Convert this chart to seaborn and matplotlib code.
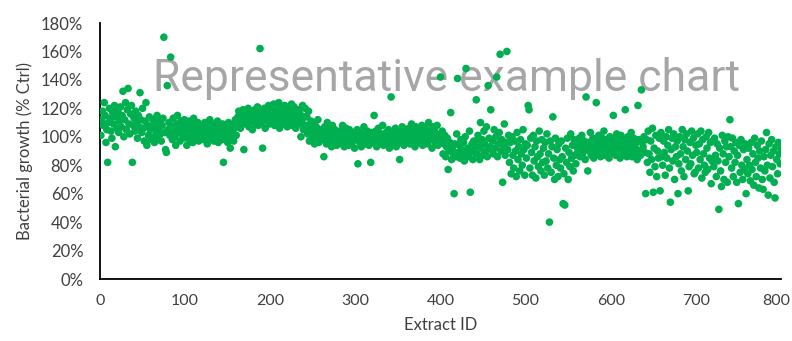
import matplotlib
matplotlib.use("Agg")
import matplotlib.pyplot as plt
import matplotlib.transforms as mtransforms
import seaborn as sns
import numpy as np
import pandas as pd
from matplotlib.ticker import FuncFormatter

# Bacterial growth (% of control) per extract ID 1..800
growth_rows = [
    [101, 112, 118, 108, 124, 115, 96, 105, 82, 110, 120, 113, 104, 99, 117, 109, 122, 93, 114, 106],
    [118, 103, 111, 121, 107, 115, 132, 100, 112, 124, 105, 119, 134, 109, 102, 116, 122, 82, 108, 113],
    [104, 118, 110, 99, 115, 107, 131, 112, 103, 120, 106, 97, 111, 124, 94, 108, 101, 114, 105, 98],
    [107, 112, 100, 96, 109, 104, 115, 99, 106, 111, 102, 97, 108, 113, 170, 103, 91, 89, 136, 105],
    [110, 101, 156, 107, 98, 113, 104, 100, 94, 109, 115, 103, 106, 97, 111, 102, 108, 99, 112, 105],
    [100, 94, 107, 111, 98, 104, 109, 101, 96, 113, 105, 99, 108, 103, 110, 97, 106, 102, 100, 107],
    [103, 98, 110, 106, 101, 95, 108, 104, 112, 99, 105, 102, 107, 97, 109, 103, 100, 111, 96, 104],
    [106, 101, 98, 109, 82, 104, 99, 107, 102, 96, 110, 105, 92, 100, 108, 103, 97, 106, 112, 101],
    [108, 114, 118, 110, 106, 116, 112, 119, 91, 115, 109, 117, 113, 120, 107, 114, 111, 118, 105, 116],
    [112, 119, 109, 115, 121, 108, 113, 162, 117, 110, 92, 116, 120, 106, 114, 118, 111, 122, 109, 115],
    [119, 112, 116, 123, 108, 114, 121, 110, 117, 124, 106, 115, 120, 113, 109, 118, 122, 111, 116, 107],
    [114, 120, 110, 117, 123, 108, 115, 121, 112, 106, 118, 113, 119, 109, 116, 100, 111, 122, 105, 114],
    [120, 108, 114, 102, 118, 97, 106, 111, 99, 104, 109, 95, 103, 107, 100, 112, 96, 105, 101, 98],
    [104, 99, 86, 107, 101, 95, 110, 103, 97, 106, 100, 93, 108, 102, 96, 105, 99, 94, 103, 100],
    [97, 104, 101, 95, 108, 99, 93, 102, 106, 98, 100, 94, 105, 97, 101, 96, 103, 99, 92, 102],
    [98, 105, 81, 100, 96, 103, 93, 101, 99, 107, 95, 102, 97, 104, 100, 94, 98, 82, 103, 96],
    [101, 115, 97, 104, 93, 100, 106, 98, 95, 102, 99, 108, 94, 101, 97, 103, 96, 100, 105, 92],
    [99, 128, 103, 95, 101, 97, 106, 93, 100, 104, 98, 84, 102, 96, 107, 99, 94, 101, 105, 97],
    [103, 98, 106, 95, 101, 109, 97, 104, 100, 93, 107, 99, 102, 96, 105, 101, 98, 108, 94, 103],
    [100, 106, 97, 103, 95, 110, 101, 98, 105, 92, 107, 99, 104, 96, 102, 108, 94, 100, 97, 142],
    [98, 104, 88, 95, 101, 86, 93, 99, 77, 90, 96, 117, 84, 92, 88, 60, 95, 86, 102, 141],
    [89, 94, 85, 98, 91, 87, 96, 83, 100, 148, 88, 92, 86, 104, 61, 90, 95, 84, 97, 89],
    [93, 126, 88, 101, 96, 84, 110, 92, 98, 87, 104, 95, 90, 107, 86, 136, 99, 93, 119, 91],
    [97, 88, 105, 92, 100, 142, 86, 95, 103, 158, 90, 98, 68, 94, 109, 87, 96, 160, 91, 101],
    [82, 96, 74, 100, 87, 78, 97, 90, 72, 103, 84, 93, 76, 98, 88, 80, 105, 91, 73, 95],
    [85, 94, 122, 119, 78, 99, 89, 73, 101, 83, 93, 71, 97, 86, 79, 104, 88, 76, 98, 82],
    [92, 73, 96, 83, 102, 78, 88, 40, 97, 75, 93, 114, 85, 70, 99, 80, 91, 72, 95, 84],
    [78, 97, 86, 53, 74, 52, 92, 82, 99, 70, 89, 79, 102, 85, 94, 76, 98, 87, 81, 93],
    [89, 95, 99, 86, 92, 101, 88, 94, 97, 84, 128, 91, 76, 96, 90, 103, 87, 93, 99, 85],
    [94, 90, 124, 97, 88, 101, 92, 86, 96, 99, 89, 104, 93, 87, 98, 91, 95, 85, 100, 92],
    [96, 89, 115, 93, 99, 87, 102, 94, 90, 97, 85, 101, 92, 88, 98, 95, 119, 91, 86, 100],
    [94, 89, 97, 103, 86, 92, 99, 88, 95, 91, 84, 122, 98, 90, 87, 133, 96, 93, 100, 89],
    [60, 98, 82, 104, 88, 75, 97, 84, 106, 61, 92, 79, 101, 72, 90, 85, 99, 62, 103, 86],
    [80, 97, 89, 73, 100, 85, 94, 105, 78, 54, 91, 99, 83, 102, 70, 93, 86, 97, 60, 81],
    [100, 88, 76, 105, 93, 72, 98, 84, 102, 90, 62, 79, 96, 81, 104, 87, 99, 74, 75, 94],
    [89, 102, 78, 95, 84, 104, 71, 98, 88, 80, 75, 100, 92, 77, 103, 85, 96, 67, 83, 97],
    [79, 99, 87, 72, 95, 83, 49, 92, 76, 65, 101, 88, 70, 97, 82, 93, 68, 100, 86, 112],
    [93, 78, 99, 72, 90, 82, 96, 68, 87, 53, 94, 75, 98, 80, 70, 91, 77, 95, 60, 84],
    [74, 92, 80, 69, 96, 77, 88, 66, 99, 82, 72, 94, 85, 64, 90, 78, 97, 70, 63, 86],
    [76, 91, 103, 80, 59, 95, 71, 87, 98, 79, 90, 68, 57, 93, 84, 74, 96, 88, 81, 92],
]
growth_pct = [v for row in growth_rows for v in row]
extract_ids = list(range(1, len(growth_pct) + 1))

x_ticks = [0, 100, 200, 300, 400, 500, 600, 700, 800]
y_ticks = [0, 20, 40, 60, 80, 100, 120, 140, 160, 180]

df = pd.DataFrame({"Extract ID": extract_ids, "Growth": growth_pct})

sns.set_theme(style="white")
plt.rcParams["font.family"] = ["Lato", "DejaVu Sans"]

fig = plt.figure(figsize=(7.92, 3.41), dpi=100)
ax = fig.add_axes([100 / 792, 62 / 341, 681 / 792, 256 / 341])

sns.scatterplot(data=df, x="Extract ID", y="Growth", ax=ax, color="#00B050",
                s=30, linewidth=0, edgecolor="none", zorder=3)

ax.set_xlim(0, 800)
ax.set_ylim(0, 180)
ax.set_xticks(x_ticks)
ax.set_yticks(y_ticks)
ax.yaxis.set_major_formatter(FuncFormatter(lambda v, p: f"{int(v)}%"))
for s in ["top", "right"]:
    ax.spines[s].set_visible(False)
for s in ["left", "bottom"]:
    ax.spines[s].set_color("black")
    ax.spines[s].set_linewidth(1.3)
ax.tick_params(axis="both", direction="out", length=5, width=1.3, color="black",
               labelcolor="#404040")
ax.tick_params(axis="y", labelsize=12, pad=7)
ax.tick_params(axis="x", labelsize=11.5, pad=6)
ax.set_xlabel("Extract ID", fontsize=12, color="#404040", labelpad=6)
ax.set_ylabel("Bacterial growth (% Ctrl)", fontsize=12, color="#404040", labelpad=6)

# keep the last x tick label inside the canvas
last = ax.get_xticklabels()[-1]
last.set_transform(last.get_transform() +
                   mtransforms.ScaledTranslation(-5 / 100, 0, fig.dpi_scale_trans))

ax.text(447 / 792, 1 - 79 / 341, "Representative example chart",
        transform=fig.transFigure, ha="center", va="center",
        fontsize=32, color="#a6a6a6", family=["Roboto", "DejaVu Sans"], zorder=1)

fig.savefig("out.png", dpi=100)
